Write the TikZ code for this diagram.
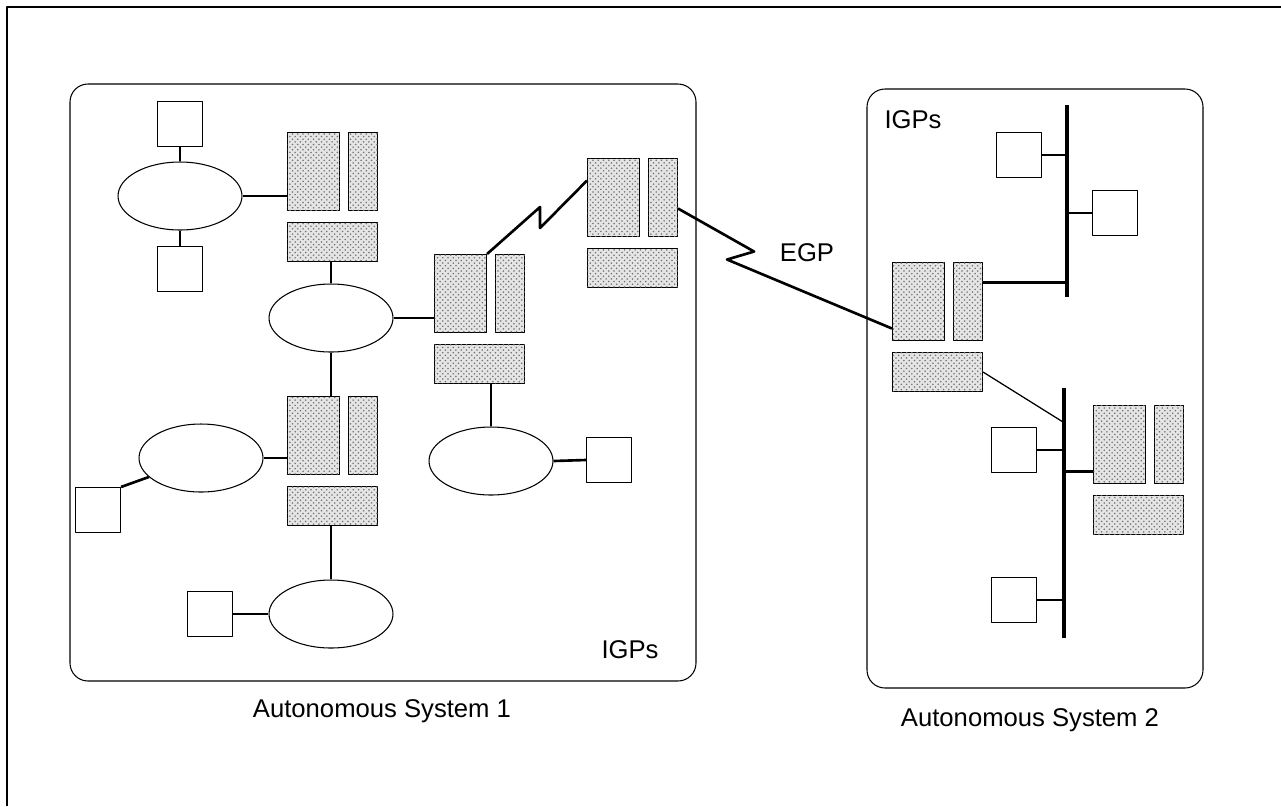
\documentclass[tikz,border=0pt]{standalone}
\usepackage{fontspec}
\setmainfont{Liberation Sans}
\usetikzlibrary{patterns,shapes.geometric}
\tikzset{
  net diagram/.style={x=0.02cm, y=-0.02cm, font=\fontsize{14.6}{17}\selectfont,
    line join=round},
  net domain/.style={draw, line width=0.6pt, rounded corners=0.36cm},
  net host/.style={draw, line width=0.6pt, fill=white, inner sep=0pt,
    minimum width=0.9cm, minimum height=0.9cm},
  net lan/.style={ellipse, draw, line width=0.6pt, fill=white, inner sep=0pt,
    minimum width=2.48cm, minimum height=1.36cm},
  net dotted/.style={draw, line width=0.6pt, fill=black!10, inner sep=0pt,
    postaction={pattern=crosshatch dots, pattern color=black!55}, anchor=north west},
  net cpu/.style={net dotted, minimum width=1.04cm, minimum height=1.56cm},
  net adapter/.style={net dotted, minimum width=0.58cm, minimum height=1.56cm},
  net unit/.style={net dotted, minimum width=1.8cm, minimum height=0.78cm},
  net link/.style={line width=1.5pt},
  net thin/.style={line width=0.7pt},
  net bus/.style={line width=1.8pt}
}

\begin{document}
\begin{tikzpicture}[net diagram]
\useasboundingbox (0,0) rectangle (1281,806);
\draw[line width=1.1pt] (7,806) -- (7,7) -- (1281,7);
\draw[net domain] (70,84) rectangle (696,681);
\draw[net domain] (867,89) rectangle (1203,688);
\node[anchor=base] (as1 label) at (382,717) {Autonomous System 1};
\node[anchor=base] (as2 label) at (1030,726) {Autonomous System 2};
\node[anchor=base] (igp1 label) at (630,658) {IGPs};
\node[anchor=base] (igp2 label) at (913,128) {IGPs};
\node[anchor=base] (egp label) at (807,261) {EGP};
\foreach \n/\x/\y in {ra/287/132,rb/434/254,rc/287/396,rd/587/158,re/892/262,rf/1093/405}{
  \node[net cpu] (\n-big) at (\x,\y) {};
  \node[net adapter] (\n-side) at (\x+61,\y) {};
  \node[net unit] (\n-base) at (\x,\y+90) {};
}
\node[net lan] (lan1) at (180,196) {};
\node[net lan] (lan2) at (331,318) {};
\node[net lan] (lan3) at (201,458) {};
\node[net lan] (lan4) at (331,614) {};
\node[net lan] (lan5) at (491,461) {};
\node[net host] (h1) at (180,124) {};
\node[net host] (h2) at (180,269) {};
\node[net host] (h3) at (98,510) {};
\node[net host] (h4) at (210,614) {};
\node[net host] (h5) at (609,460) {};
\node[net host] (ha) at (1019,155) {};
\node[net host] (hb) at (1115,213) {};
\node[net host] (hc) at (1014,450) {};
\node[net host] (hd) at (1014,600) {};
\coordinate (bus1 top) at (1067,105);
\coordinate (bus1 bot) at (1067,297);
\coordinate (bus2 top) at (1064,388);
\coordinate (bus2 bot) at (1064,638);
\coordinate (bus2 tap) at (1063,422);
\draw[net link] (h1) -- (lan1) -- (h2);
\draw[net link] (lan1.east) -- (lan1.east -| ra-big.west);
\draw[net link] (lan2.north |- ra-base.south) -- (lan2.north);
\draw[net link] (lan2.east) -- (lan2.east -| rb-big.west);
\draw[net link] (lan2.south) -- (lan2.south |- rc-big.north);
\draw[net link] (lan3.east) -- (lan3.east -| rc-big.west);
\draw[net link] (h3.north east) -- (lan3.200);
\draw[net link] (lan4.north |- rc-base.south) -- (lan4.north);
\draw[net link] (h4.east) -- (lan4.west);
\draw[net link] (lan5.north) -- (lan5.north |- rb-base.south);
\draw[net link] (lan5.east) -- (h5.west);
\draw[net link] (rb-big.north east) -- ++(53,-47) -- ++(0,21) -- ([yshift=0.34cm]rd-big.west);
\draw[net link] ([yshift=-0.22cm]rd-side.east) -- ++(76,43) -- ++(-27,8) -- ([yshift=-0.54cm]re-big.west);
\draw[net bus] (bus1 top) -- (bus1 bot);
\draw[net bus] (bus2 top) -- (bus2 bot);
\draw[net link] (ha.east) -- (ha.east -| bus1 top);
\draw[net link] (hb.west) -- (hb.west -| bus1 top);
\draw[net link] ([yshift=0.38cm]re-side.east) -- ([yshift=0.38cm]re-side.east -| bus1 top);
\draw[net thin] (re-base.east) -- (bus2 tap);
\draw[net link] (hc.east) -- (hc.east -| bus2 top);
\draw[net link] ([yshift=-0.54cm]rf-big.west) -- ([yshift=-0.54cm]rf-big.west -| bus2 top);
\draw[net link] (hd.east) -- (hd.east -| bus2 top);
\end{tikzpicture}
\end{document}
